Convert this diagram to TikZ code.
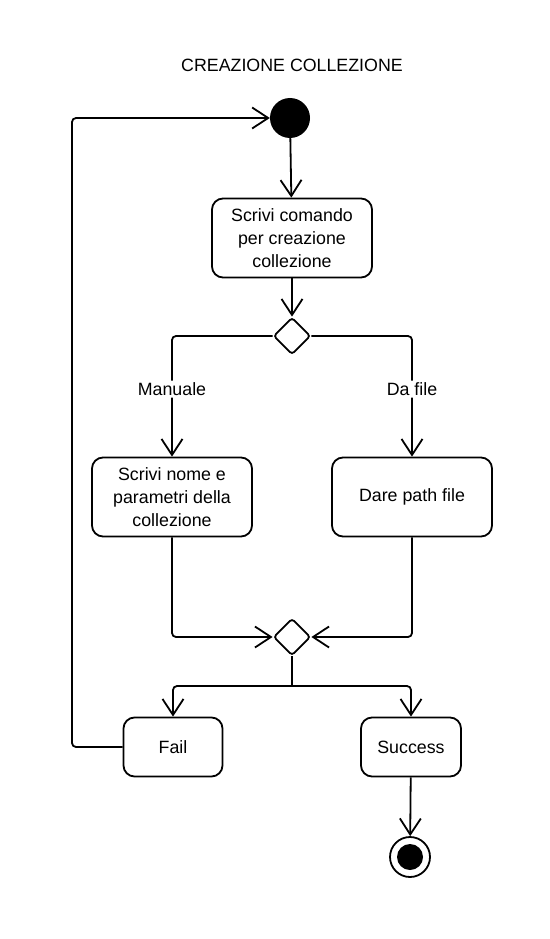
\documentclass[tikz,border=0pt]{standalone}
\usepackage{fontspec}
\setmainfont{Liberation Sans}
\usetikzlibrary{arrows.meta,shapes.geometric}

\tikzset{
  act/.style={draw, line width=1.8pt, rounded corners=11pt, align=center, inner sep=0pt, minimum width=160pt, minimum height=79pt},
  dec/.style={draw, line width=1.8pt, diamond, rounded corners=3pt, inner sep=0pt, minimum width=37pt, minimum height=37pt},
  flow/.style={line width=1.8pt, rounded corners=4pt, -{Straight Barb[length=16pt,width=21pt,line width=1.8pt]}},
  guard/.style={fill=white, inner sep=2pt}
}

\begin{document}
\begin{tikzpicture}[x=1pt,y=-1pt,font=\fontsize{17.8}{23}\selectfont]
\useasboundingbox (0,0) rectangle (549,939);
\node at (292,65) {CREAZIONE COLLEZIONE};
\node[circle, fill=black, inner sep=0pt, minimum size=40pt] (start) at (290,118) {};
\node[act] (cmd) at (292,238) {Scrivi comando\\per creazione\\collezione};
\node[dec] (split) at (292,336) {};
\node[act] (manual) at (172,497) {Scrivi nome e\\parametri della\\collezione};
\node[act] (path) at (412,497) {Dare path file};
\node[dec] (merge) at (292,637) {};
\node[act, minimum width=99pt, minimum height=59pt] (fail) at (173,747) {Fail};
\node[act, minimum width=100pt, minimum height=59pt] (ok) at (411,747) {Success};
\node[circle, draw, line width=1.8pt, inner sep=0pt, minimum size=40pt] (stop) at (410,857) {};
\fill (stop) circle (13pt);
\coordinate (fork) at (292,686);

\draw[flow] (start) -- (cmd);
\draw[flow] (cmd) -- (split);
\draw[flow] (split.west) -| node[pos=0.72, guard] {Manuale} (manual.north);
\draw[flow] (split.east) -| node[pos=0.72, guard] {Da file} (path.north);
\draw[flow] (manual.south) |- (merge.west);
\draw[flow] (path.south) |- (merge.east);
\draw[line width=1.8pt] (merge.south) -- (fork);
\draw[flow] (fork) -| (fail.north);
\draw[flow] (fork) -| (ok.north);
\draw[flow] (fail.west) -- (72,747) |- (start.west);
\draw[flow] (ok) -- (stop);
\end{tikzpicture}
\end{document}
